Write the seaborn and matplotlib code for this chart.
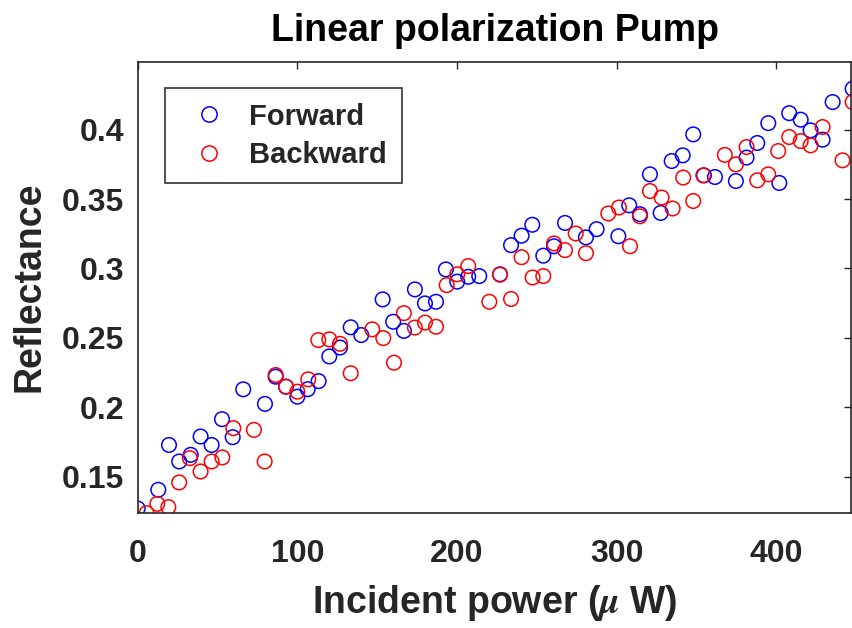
import matplotlib
matplotlib.use('Agg')
import matplotlib.pyplot as plt
from matplotlib.lines import Line2D
from matplotlib.ticker import FuncFormatter
import pandas as pd
import seaborn as sns

# values
forward_power = [0, 12.9, 19.6, 26.0, 33.2, 39.4, 46.3, 52.8, 59.5, 66.1, 79.7, 86.4,
                 92.9, 100.0, 106.5, 113.3, 120.0, 126.7, 133.4, 140.0, 153.4, 160.0,
                 166.7, 173.6, 179.9, 186.8, 193.0, 200.1, 207.0, 213.9, 226.9, 233.8,
                 240.4, 247.1, 254.0, 260.7, 267.6, 280.7, 287.4, 301.0, 307.8, 314.5,
                 320.8, 327.5, 334.4, 341.3, 347.9, 354.6, 361.5, 374.6, 381.3, 388.0,
                 394.9, 401.8, 408.0, 415.2, 421.4, 428.9, 435.2, 447.7]
forward_refl = [0.127, 0.1405, 0.1728, 0.1609, 0.1657, 0.1789, 0.1728, 0.1914, 0.1784,
                0.2129, 0.2024, 0.2220, 0.2148, 0.2076, 0.2130, 0.2188, 0.2366, 0.2430,
                0.2576, 0.2520, 0.2777, 0.2616, 0.2550, 0.2849, 0.2748, 0.2760, 0.2993,
                0.2905, 0.2940, 0.2945, 0.2958, 0.3168, 0.3236, 0.3315, 0.3092, 0.3160,
                0.3328, 0.3224, 0.3283, 0.3232, 0.3455, 0.3391, 0.3678, 0.3400, 0.3774,
                0.3815, 0.3966, 0.3671, 0.3659, 0.3630, 0.3799, 0.3904, 0.4047, 0.3616,
                0.4119, 0.4072, 0.3995, 0.3928, 0.4199, 0.4295]

backward_power = [5.6, 12.3, 19.2, 26.0, 32.7, 39.4, 46.3, 53.0, 59.9, 72.8, 79.5, 86.4,
                  92.9, 100.0, 106.8, 113.1, 120.0, 126.7, 133.4, 146.9, 153.8, 160.5,
                  166.7, 173.6, 179.9, 186.8, 193.5, 200.1, 207.0, 220.2, 226.9, 233.8,
                  240.4, 247.3, 254.0, 260.7, 267.6, 274.3, 280.7, 294.7, 301.4, 308.3,
                  314.5, 320.8, 328.1, 335.0, 341.6, 347.9, 354.2, 367.7, 374.6, 381.3,
                  388.0, 394.9, 401.1, 408.0, 415.2, 421.4, 428.9, 441.4, 447.7]
backward_refl = [0.1237, 0.1304, 0.1280, 0.1458, 0.1633, 0.1537, 0.1609, 0.1638, 0.1849,
                 0.1837, 0.1609, 0.2232, 0.2148, 0.2112, 0.2201, 0.2484, 0.2489, 0.2457,
                 0.2245, 0.2561, 0.2498, 0.2321, 0.2678, 0.2574, 0.2610, 0.2580, 0.2880,
                 0.2958, 0.3017, 0.2760, 0.2955, 0.2780, 0.3081, 0.2935, 0.2945, 0.3180,
                 0.3132, 0.3252, 0.3110, 0.3396, 0.3439, 0.3160, 0.3376, 0.3558, 0.3511,
                 0.3432, 0.3655, 0.3486, 0.3671, 0.3818, 0.3750, 0.3875, 0.3635, 0.3678,
                 0.3846, 0.3947, 0.3918, 0.3887, 0.4019, 0.3779, 0.4199]

series = ['Forward', 'Backward']
colors = {'Forward': 'blue', 'Backward': 'red'}
x_ticks = [0, 100, 200, 300, 400]
y_ticks = [0.15, 0.2, 0.25, 0.3, 0.35, 0.4]

df = pd.concat([
    pd.DataFrame({'power': forward_power, 'refl': forward_refl, 'dir': 'Forward'}),
    pd.DataFrame({'power': backward_power, 'refl': backward_refl, 'dir': 'Backward'}),
], ignore_index=True)

sns.set_style('white')
plt.rcParams['font.family'] = ['Liberation Sans', 'DejaVu Sans']
plt.rcParams['font.weight'] = 'bold'
plt.rcParams['mathtext.fontset'] = 'stix'

fig = plt.figure(figsize=(8.52, 6.28), dpi=100)
ax = fig.add_axes([0.1616, 0.1836, 0.8378, 0.7182])

sns.scatterplot(data=df, x='power', y='refl', hue='dir', palette=colors,
                s=110, linewidth=1.1, legend=False, ax=ax)

# hollow circles
for coll in ax.collections:
    coll.set_edgecolors(coll.get_facecolors())
    coll.set_facecolors('none')

ax.set_xlim(0, 447)
ax.set_ylim(0.124, 0.449)
ax.set_xticks(x_ticks)
ax.set_yticks(y_ticks)
ax.yaxis.set_major_formatter(FuncFormatter(lambda v, p: '%g' % v))
ax.tick_params(direction='in', top=True, right=True, length=5, width=1,
               labelsize=23, colors='#262626')
ax.tick_params(axis='x', pad=19)
ax.tick_params(axis='y', pad=10)
for lab in ax.get_xticklabels() + ax.get_yticklabels():
    lab.set_fontweight('bold')
for sp in ax.spines.values():
    sp.set_color('#262626')
    sp.set_linewidth(1.2)

ax.set_xlabel(r'Incident power ($\mu$ W)', fontsize=27, fontweight='bold',
              color='#262626', labelpad=10)
ax.set_ylabel('Reflectance', fontsize=27, fontweight='bold', color='#262626',
              labelpad=10)
ax.set_title('Linear polarization Pump', fontsize=27, fontweight='bold',
             color='black', pad=15)

handles = [Line2D([], [], linestyle='none', marker='o', markersize=11,
                  markerfacecolor='none', markeredgecolor=colors[k],
                  markeredgewidth=1.1, label=k) for k in series]
leg = ax.legend(handles=handles, loc='upper left', bbox_to_anchor=(0.038, 0.9417),
                borderaxespad=0, frameon=True, fancybox=False, edgecolor='black',
                handletextpad=0.4, borderpad=0.5, labelspacing=0.35,
                prop={'weight': 'bold', 'size': 21})
leg.get_frame().set_linewidth(1.2)

fig.savefig('out.png', dpi=100)
